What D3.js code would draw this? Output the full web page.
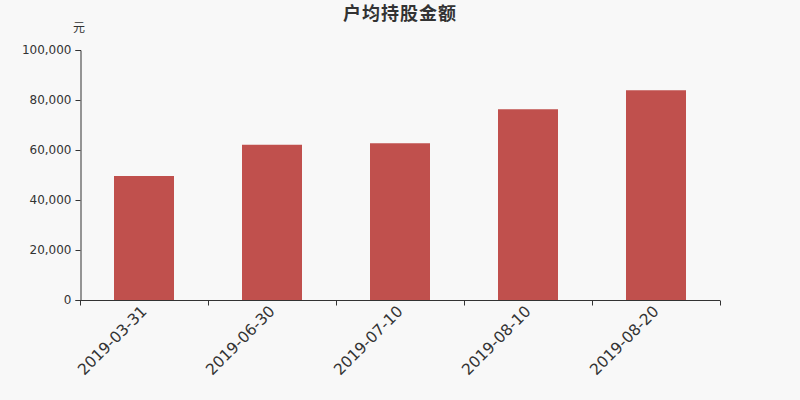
<!DOCTYPE html>
<html>
<head>
<meta charset="utf-8">
<script src="https://cdn.jsdelivr.net/npm/d3@7"></script>
<style>
  body { margin: 0; background: #f8f8f8; }
  svg { display: block; }
  .lat { font-family: "DejaVu Sans", sans-serif; }
  .cjk { font-family: "Noto Sans CJK SC", sans-serif; }
</style>
</head>
<body>
<svg id="chart" width="800" height="400"></svg>
<script>
// data
var dates = ["2019-03-31", "2019-06-30", "2019-07-10", "2019-08-10", "2019-08-20"];
var amounts = [49600, 62100, 62700, 76300, 83900];
var yTicks = [0, 20000, 40000, 60000, 80000, 100000];

var margin = {top: 50, right: 80, bottom: 100, left: 80};
var width = 800 - margin.left - margin.right,
    height = 400 - margin.top - margin.bottom;

var svg = d3.select("#chart");
svg.append("rect").attr("width", 800).attr("height", 400).attr("fill", "#f8f8f8");

var g = svg.append("g").attr("transform", "translate(" + margin.left + "," + margin.top + ")");

var x = d3.scaleBand().domain(dates).range([0, width]).paddingInner(0.53125).paddingOuter(0.265625);
var y = d3.scaleLinear().domain([0, 100000]).range([height, 0]);

// bars
g.selectAll(".bar")
    .data(amounts)
    .enter().append("rect")
    .attr("class", "bar")
    .attr("x", function (d, i) { return x(dates[i]); })
    .attr("y", function (d) { return y(d); })
    .attr("width", x.bandwidth())
    .attr("height", function (d) { return height - y(d); })
    .attr("fill", "#c0504d");

// y axis
var yAxis = g.append("g")
    .attr("transform", "translate(0.5,0)")
    .call(d3.axisLeft(y).tickValues(yTicks).tickSize(5).tickFormat(d3.format(",")));
yAxis.attr("font-family", null).attr("font-size", null);
yAxis.select(".domain").attr("stroke", "#333");
yAxis.selectAll(".tick line").attr("stroke", "#333");
yAxis.selectAll(".tick text")
    .attr("class", "lat")
    .attr("fill", "#333")
    .style("font-size", "12px")
    .attr("x", -9);

// x axis, ticks sit on band boundaries
var step = x.step();
var xAxis = g.append("g").attr("transform", "translate(0," + (height + 0.5) + ")");
xAxis.append("line").attr("x1", 0).attr("x2", width).attr("stroke", "#333");
var bounds = d3.range(dates.length + 1).map(function (i) { return i * step; });
xAxis.selectAll(".xtick")
    .data(bounds)
    .enter().append("line")
    .attr("x1", function (d) { return Math.round(d) + 0.5; })
    .attr("x2", function (d) { return Math.round(d) + 0.5; })
    .attr("y1", 0).attr("y2", 5)
    .attr("stroke", "#333");
xAxis.selectAll(".xlabel")
    .data(dates)
    .enter().append("text")
    .attr("class", "lat")
    .attr("transform", function (d) {
        return "translate(" + (x(d) + x.bandwidth() / 2) + ",8) rotate(-45)";
    })
    .attr("text-anchor", "end")
    .attr("dy", "0.35em")
    .style("font-size", "15.5px")
    .attr("fill", "#333")
    .text(function (d) { return d; });

// title and unit
svg.append("text")
    .attr("class", "cjk")
    .attr("x", 400).attr("y", 20)
    .attr("text-anchor", "middle")
    .style("font-size", "18px").style("font-weight", "bold")
    .attr("letter-spacing", 1)
    .attr("fill", "#333")
    .text("户均持股金额");
svg.append("text")
    .attr("class", "cjk")
    .attr("x", 79).attr("y", 32)
    .attr("text-anchor", "middle")
    .style("font-size", "12px")
    .attr("fill", "#333")
    .text("元");
</script>
</body>
</html>
